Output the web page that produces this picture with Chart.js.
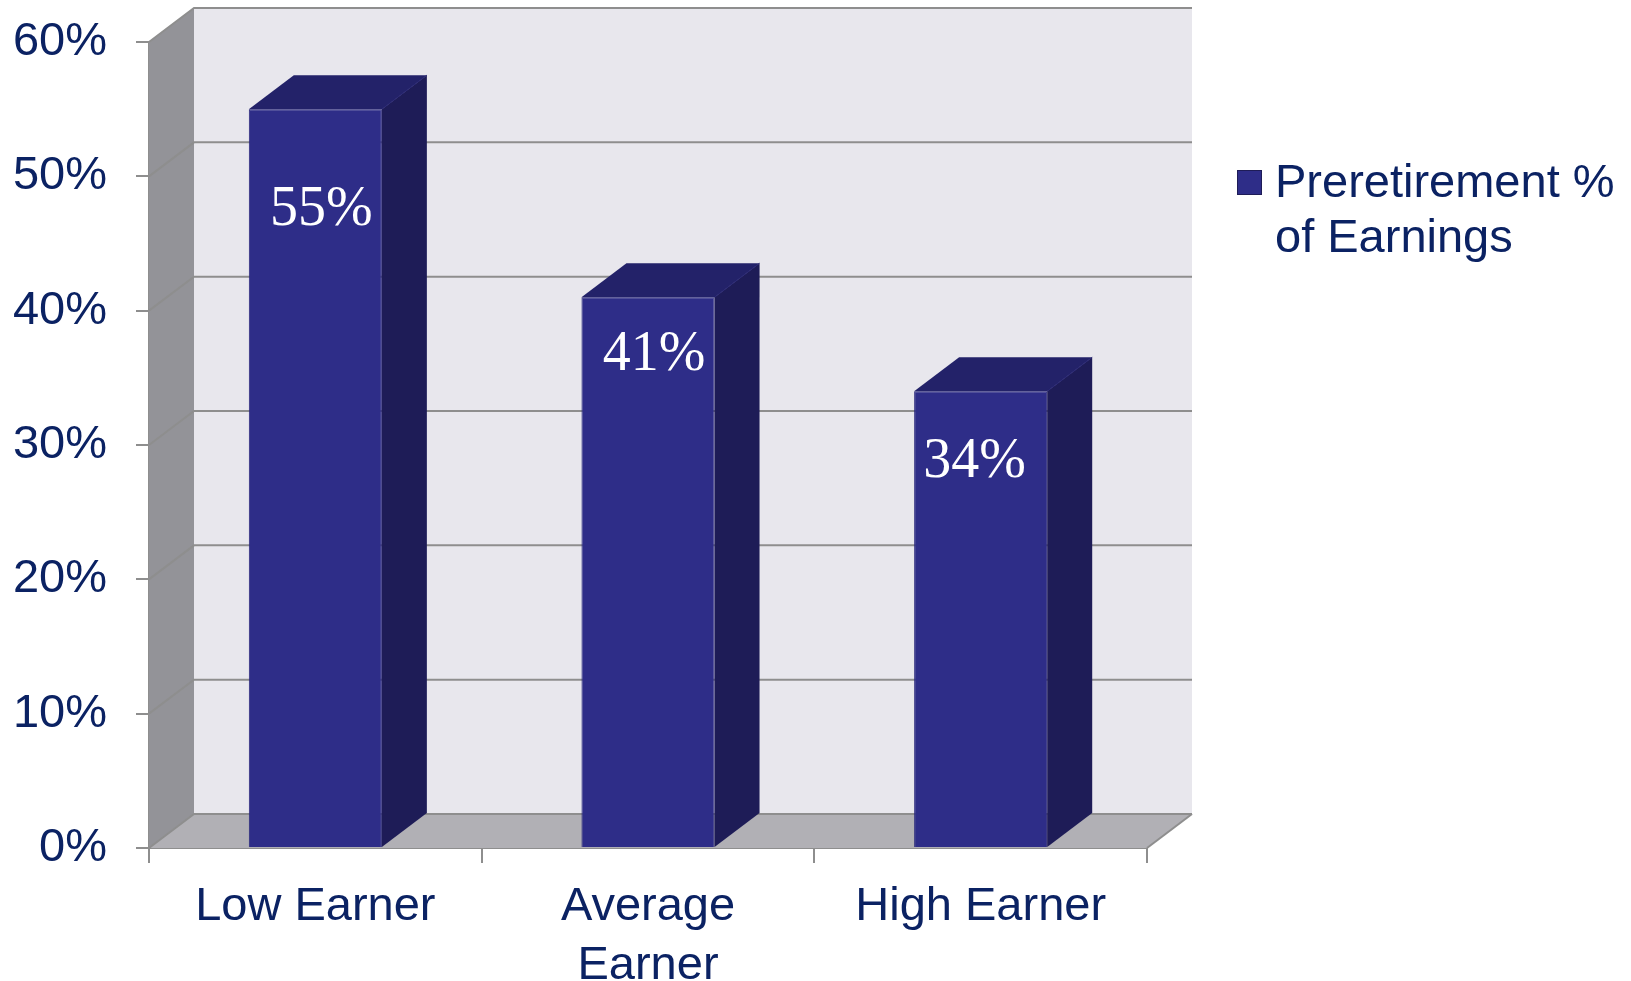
<!DOCTYPE html>
<html>
<head>
<meta charset="utf-8">
<script src="https://cdn.jsdelivr.net/npm/chart.js@4"></script>
<style>
  html, body { margin: 0; padding: 0; background: #ffffff; }
  canvas { display: block; }
</style>
</head>
<body>
<canvas id="replacementChart" width="1631" height="981"></canvas>
<script>
  // ---- DATA ----
  const earnerGroups = ["Low Earner", ["Average", "Earner"], "High Earner"];
  const replacementPct = [55, 41, 34];
  const seriesName = ["Preretirement %", "of Earnings"];
  const yMin = 0;
  const yMax = 60;
  const yStep = 10;

  // ---- STYLE ----
  const NAVY = "#0b2263";
  const BAR_FRONT = "#2e2d88";
  const BAR_TOP = "#232269";
  const BAR_SIDE = "#1e1c57";
  const GRID = "#8e8e8e";
  const SANS = "'Liberation Sans', Arial, sans-serif";
  const SERIF = "'Liberation Serif', 'Times New Roman', serif";

  Chart.defaults.font.family = SANS;

  // ---- 3D BOX PLUGIN ----
  // walls + floor behind the bars, then top/side faces on each bar
  const boxFrame = {
    id: "boxFrame",
    beforeDatasetsDraw(chart, args, opts) {
      const { ctx, chartArea, scales } = chart;
      const { left: L, right: R, top: T, bottom: B } = chartArea;
      const dx = opts.dx, dy = opts.dy;

      ctx.save();
      // back wall
      ctx.fillStyle = "#e8e7ed";
      ctx.fillRect(L + dx, T + dy, R - L, B - T);

      // left side wall
      ctx.fillStyle = "#939398";
      ctx.beginPath();
      ctx.moveTo(L, T);
      ctx.lineTo(L + dx, T + dy);
      ctx.lineTo(L + dx, B + dy);
      ctx.lineTo(L, B);
      ctx.closePath();
      ctx.fill();

      // floor
      ctx.fillStyle = "#b1b0b5";
      ctx.beginPath();
      ctx.moveTo(L, B);
      ctx.lineTo(L + dx, B + dy);
      ctx.lineTo(R + dx, B + dy);
      ctx.lineTo(R, B);
      ctx.closePath();
      ctx.fill();

      // gridlines wrap from the side wall onto the back wall
      ctx.strokeStyle = GRID;
      ctx.lineWidth = 2;
      for (let v = yMin; v <= yMax; v += yStep) {
        const y = scales.y.getPixelForValue(v);
        ctx.beginPath();
        ctx.moveTo(L, y);
        ctx.lineTo(L + dx, y + dy);
        ctx.lineTo(R + dx, y + dy);
        ctx.stroke();
      }

      // floor front-right edge
      ctx.beginPath();
      ctx.moveTo(R, B);
      ctx.lineTo(R + dx, B + dy);
      ctx.stroke();
      ctx.restore();
    },

    afterDatasetsDraw(chart, args, opts) {
      const { ctx } = chart;
      const dx = opts.dx, dy = opts.dy;
      const meta = chart.getDatasetMeta(0);

      ctx.save();
      meta.data.forEach(bar => {
        const { x, y, base, width } = bar.getProps(["x", "y", "base", "width"], true);
        const l = x - width / 2;
        const r = x + width / 2;

        // top face
        ctx.fillStyle = BAR_TOP;
        ctx.beginPath();
        ctx.moveTo(l, y);
        ctx.lineTo(l + dx, y + dy);
        ctx.lineTo(r + dx, y + dy);
        ctx.lineTo(r, y);
        ctx.closePath();
        ctx.fill();

        // right face
        ctx.fillStyle = BAR_SIDE;
        ctx.beginPath();
        ctx.moveTo(r, y);
        ctx.lineTo(r + dx, y + dy);
        ctx.lineTo(r + dx, base + dy);
        ctx.lineTo(r, base);
        ctx.closePath();
        ctx.fill();

        // faint edge where top meets side
        ctx.strokeStyle = "#2a2875";
        ctx.lineWidth = 1;
        ctx.beginPath();
        ctx.moveTo(r, y);
        ctx.lineTo(r + dx, y + dy);
        ctx.stroke();
      });
      ctx.restore();
    }
  };

  // ---- VALUE LABELS + LEGEND ----
  const barLabels = {
    id: "barLabels",
    afterDraw(chart, args, opts) {
      const { ctx } = chart;
      const meta = chart.getDatasetMeta(0);
      const values = chart.data.datasets[0].data;

      ctx.save();
      ctx.font = "56px " + SERIF;
      ctx.fillStyle = "#ffffff";
      ctx.textAlign = "center";
      ctx.textBaseline = "alphabetic";
      meta.data.forEach((bar, i) => {
        const nudge = opts.nudge[i] || [0, 90];
        ctx.fillText(values[i] + "%", bar.x + nudge[0], bar.y + nudge[1]);
      });

      // legend: swatch + two-line series name
      const lg = opts.legend;
      ctx.fillStyle = BAR_FRONT;
      ctx.fillRect(lg.x, lg.y, lg.box, lg.box);
      ctx.strokeStyle = BAR_SIDE;
      ctx.lineWidth = 1;
      ctx.strokeRect(lg.x + 0.5, lg.y + 0.5, lg.box - 1, lg.box - 1);

      ctx.font = "47px " + SANS;
      ctx.fillStyle = NAVY;
      ctx.textAlign = "left";
      seriesName.forEach((line, i) => {
        ctx.fillText(line, lg.textX, lg.baseline + i * lg.lineGap);
      });
      ctx.restore();
    }
  };

  // ---- CHART ----
  new Chart(document.getElementById("replacementChart"), {
    type: "bar",
    data: {
      labels: earnerGroups,
      datasets: [{
        label: seriesName.join(" "),
        data: replacementPct,
        backgroundColor: BAR_FRONT,
        borderColor: "#26247a",
        borderWidth: 1,
        barPercentage: 0.4,
        categoryPercentage: 1
      }]
    },
    options: {
      responsive: false,
      animation: false,
      devicePixelRatio: 1,
      layout: { padding: { top: 42, right: 484, left: 0, bottom: 0 } },
      plugins: {
        legend: { display: false },
        tooltip: { enabled: false },
        boxFrame: { dx: 45, dy: -34 },
        barLabels: {
          nudge: [[6, 116], [6, 73], [-6, 86]],
          legend: { x: 1237, y: 170, box: 25, textX: 1275, baseline: 197, lineGap: 55 }
        }
      },
      scales: {
        x: {
          afterFit(scale) {
            scale.height = 133;
            scale.paddingLeft = 0;
            scale.paddingRight = 0;
          },
          grid: {
            drawOnChartArea: false,
            drawTicks: true,
            tickLength: 15,
            color: GRID,
            lineWidth: 2
          },
          border: { display: true, color: GRID, width: 2 },
          ticks: {
            color: NAVY,
            padding: 15,
            maxRotation: 0,
            font: { size: 47, lineHeight: 1.25 }
          }
        },
        y: {
          min: yMin,
          max: yMax,
          afterFit(scale) {
            scale.width = 149;
            scale.paddingTop = 0;
            scale.paddingBottom = 0;
          },
          grid: {
            drawOnChartArea: false,
            drawTicks: true,
            tickLength: 13,
            color: GRID,
            lineWidth: 2
          },
          border: { display: true, color: GRID, width: 2 },
          ticks: {
            stepSize: yStep,
            color: NAVY,
            padding: 29,
            font: { size: 47 },
            callback: v => v + "%"
          }
        }
      }
    },
    plugins: [boxFrame, barLabels]
  });
</script>
</body>
</html>
